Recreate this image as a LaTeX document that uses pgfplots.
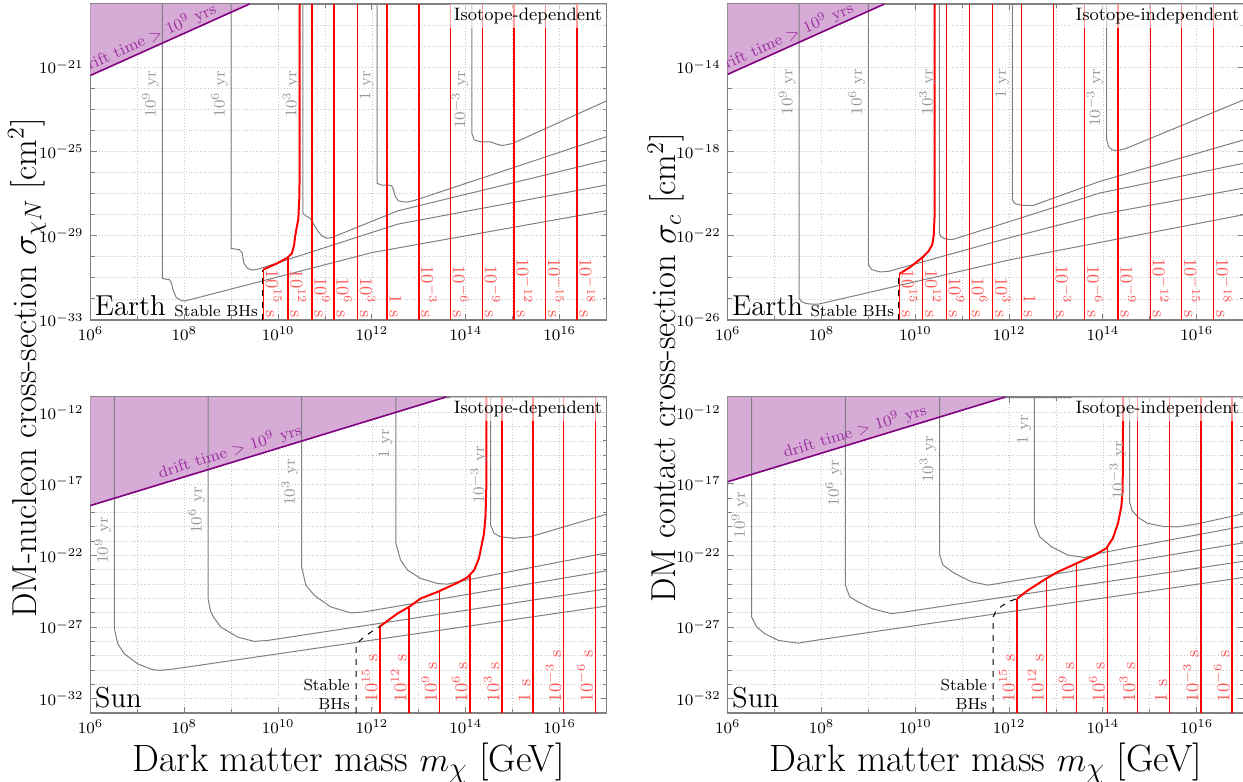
\documentclass[border=0pt]{standalone}
\usepackage{pgfplots}
\pgfplotsset{compat=1.18}
\definecolor{dmpurple}{RGB}{128,0,128}
\definecolor{dmfill}{RGB}{214,172,214}
\definecolor{dmtext}{RGB}{155,45,160}
\pgfplotsset{
  panel/.style={
    scale only axis, width=258pt, height=158pt, anchor=south west,
    xmin=6, xmax=17,
    xtick={6,8,10,12,14,16},
    xticklabels={$10^{6}$,$10^{8}$,$10^{10}$,$10^{12}$,$10^{14}$,$10^{16}$},
    minor xtick={7,9,11,13,15},
    grid=both,
    major grid style={densely dotted, gray!45, line width=0.4pt},
    minor grid style={densely dotted, gray!45, line width=0.4pt},
    axis line style={gray, line width=0.6pt},
    tick style={gray, line width=0.5pt},
    major tick length=3pt, minor tick length=2pt,
    tick align=inside,
    ticklabel style={font=\footnotesize},
    clip=true,
  },
  gc/.style={gray, line width=0.5pt},
  rl/.style={color=red, line width=0.65pt},
  rc/.style={color=red, line width=1pt},
  dl/.style={black, dashed, line width=0.5pt},
  pf/.style={draw=none, fill=dmfill},
  pl/.style={dmpurple, line width=0.8pt},
}
\newcommand{\rlabT}[3]{\node[rotate=-90, anchor=south east, text=red!65, font=\small, inner sep=1pt] at (#1,#2) {#3};}
\newcommand{\rlabB}[3]{\node[rotate=90, anchor=south west, text=red!65, font=\small, inner sep=1pt] at (#1,#2) {#3};}
\newcommand{\glab}[3]{\node[rotate=90, anchor=south east, text=gray!80, font=\footnotesize, inner sep=1.5pt] at (#1,#2) {#3};}
\begin{document}
\begin{tikzpicture}
\useasboundingbox (0pt,0pt) rectangle (621.5pt,391pt);
% ================= TOP LEFT =================
\begin{axis}[panel, at={(45.25pt,231pt)}, ymin=-33, ymax=-18,
  ytick={-33,-29,-25,-21}, yticklabels={$10^{-33}$,$10^{-29}$,$10^{-25}$,$10^{-21}$},
  minor ytick={-32,-31,-30,-28,-27,-26,-24,-23,-22,-20,-19}]
\addplot[pf] coordinates {(6,-21.39) (9.39,-18) (6,-18)};
\addplot[gc] coordinates {(7.53,-18) (7.53,-31.02) (7.6,-31.06) (7.68,-31.08) (7.73,-31.26) (7.76,-31.58) (7.83,-31.94) (7.93,-32.07) (8.01,-32.1) (12.0,-29.8) (17,-27.81)};
\addplot[gc] coordinates {(9.0,-18) (9.0,-29.6) (9.1,-29.64) (9.17,-29.66) (9.23,-29.8) (9.27,-30.31) (9.35,-30.55) (9.44,-30.63) (9.55,-30.6) (12.55,-28.45) (17,-26.59)};
\addplot[gc] coordinates {(10.53,-18) (10.53,-27.94) (10.59,-28.06) (10.68,-28.17) (10.74,-28.38) (10.83,-28.73) (10.93,-29.01) (11.05,-29.12) (11.15,-29.08) (12.55,-27.82) (17,-25.41)};
\addplot[gc] coordinates {(12.11,-18) (12.11,-26.51) (12.19,-26.59) (12.42,-26.62) (12.46,-26.83) (12.5,-27.15) (12.57,-27.35) (12.73,-27.41) (12.9,-27.33) (17,-24.3)};
\addplot[gc] coordinates {(14.13,-18) (14.13,-24.14) (14.18,-24.45) (14.32,-24.54) (14.53,-24.54) (14.64,-24.64) (14.78,-24.72) (15.0,-24.62) (17,-22.6)};
\addplot[rl] coordinates {(9.69,-33) (9.69,-30.6)};
\addplot[rl] coordinates {(10.21,-33) (10.21,-30.03)};
\addplot[rl] coordinates {(10.72,-33) (10.72,-18)};
\addplot[rl] coordinates {(11.19,-33) (11.19,-18)};
\addplot[rl] coordinates {(11.69,-33) (11.69,-18)};
\addplot[rl] coordinates {(12.32,-33) (12.32,-18)};
\addplot[rl] coordinates {(13.0,-33) (13.0,-18)};
\addplot[rl] coordinates {(13.67,-33) (13.67,-18)};
\addplot[rl] coordinates {(14.35,-33) (14.35,-18)};
\addplot[rl] coordinates {(15.03,-33) (15.03,-18)};
\addplot[rl] coordinates {(15.70,-33) (15.70,-18)};
\addplot[rl] coordinates {(16.37,-33) (16.37,-18)};
\addplot[rc] coordinates {(9.69,-30.6) (9.97,-30.32) (10.19,-30.06) (10.29,-29.85) (10.34,-29.46) (10.36,-29.07) (10.39,-28.68) (10.43,-28.21) (10.45,-27.27) (10.46,-26) (10.46,-18)};
\addplot[dl] coordinates {(9.66,-33) (9.66,-30.62)};
\addplot[pl] coordinates {(6,-21.39) (9.39,-18)};
\node[rotate=24.2, anchor=south, text=dmtext, font=\footnotesize, inner sep=0.8pt] at (7.3,-20.09) {drift time $>$ $10^{9}$ yrs};
\glab{7.53}{-21}{$10^{9}$ yr}
\glab{9.0}{-21}{$10^{6}$ yr}
\glab{10.53}{-21}{$10^{3}$ yr}
\glab{12.11}{-21}{1 yr}
\glab{14.13}{-21}{$10^{-3}$ yr}
\rlabT{9.69}{-33}{$10^{15}$ s}
\rlabT{10.21}{-33}{$10^{12}$ s}
\rlabT{10.72}{-33}{$10^{9}$ s}
\rlabT{11.19}{-33}{$10^{6}$ s}
\rlabT{11.69}{-33}{$10^{3}$ s}
\rlabT{12.32}{-33}{1 s}
\rlabT{13.0}{-33}{$10^{-3}$ s}
\rlabT{13.67}{-33}{$10^{-6}$ s}
\rlabT{14.35}{-33}{$10^{-9}$ s}
\rlabT{15.03}{-33}{$10^{-12}$ s}
\rlabT{15.70}{-33}{$10^{-15}$ s}
\rlabT{16.37}{-33}{$10^{-18}$ s}
\node[anchor=south east, font=\footnotesize, inner sep=1.5pt] at (9.64,-33) {Stable BHs};
\node[anchor=south west, font=\Large, inner sep=2pt] at (rel axis cs:0,0) {Earth};
\node[anchor=north east, font=\small, fill=white, fill opacity=0.6, text opacity=1, inner sep=2pt] at (rel axis cs:1,1) {Isotope-dependent};
\end{axis}
% ================= TOP RIGHT =================
\begin{axis}[panel, at={(363.85pt,231pt)}, ymin=-26, ymax=-11,
  ytick={-26,-22,-18,-14}, yticklabels={$10^{-26}$,$10^{-22}$,$10^{-18}$,$10^{-14}$},
  minor ytick={-25,-24,-23,-21,-20,-19,-17,-16,-15,-13,-12}]
\addplot[pf] coordinates {(6,-14.34) (9.34,-11) (6,-11)};
\addplot[gc] coordinates {(7.52,-11) (7.52,-24.95) (7.56,-25.11) (7.67,-25.22) (7.82,-25.25) (7.95,-25.24) (12.0,-23.15) (17,-21.0)};
\addplot[gc] coordinates {(9.0,-11) (9.0,-23.37) (9.07,-23.61) (9.25,-23.72) (9.43,-23.69) (12.0,-22.1) (13.92,-21.0) (17,-19.74)};
\addplot[gc] coordinates {(10.51,-11) (10.51,-21.87) (10.55,-22.05) (10.63,-22.15) (10.78,-22.19) (13.92,-19.98) (17,-18.56)};
\addplot[gc] coordinates {(12.07,-11) (12.07,-20.29) (12.12,-20.47) (12.25,-20.55) (12.5,-20.57) (13.92,-19.43) (17,-17.45)};
\addplot[gc] coordinates {(14.08,-11) (14.08,-17.45) (14.12,-17.77) (14.19,-17.92) (14.3,-17.97) (14.5,-17.85) (17,-15.55)};
\addplot[rl] coordinates {(9.66,-26) (9.66,-23.81)};
\addplot[rl] coordinates {(10.16,-26) (10.16,-23.01)};
\addplot[rl] coordinates {(10.66,-26) (10.66,-11)};
\addplot[rl] coordinates {(11.15,-26) (11.15,-11)};
\addplot[rl] coordinates {(11.65,-26) (11.65,-11)};
\addplot[rl] coordinates {(12.26,-26) (12.26,-11)};
\addplot[rl] coordinates {(12.94,-26) (12.94,-11)};
\addplot[rl] coordinates {(13.61,-26) (13.61,-11)};
\addplot[rl] coordinates {(14.32,-26) (14.32,-11)};
\addplot[rl] coordinates {(15.01,-26) (15.01,-11)};
\addplot[rl] coordinates {(15.68,-26) (15.68,-11)};
\addplot[rl] coordinates {(16.36,-26) (16.36,-11)};
\addplot[rc] coordinates {(9.66,-23.81) (9.89,-23.49) (10.16,-23.01) (10.28,-22.74) (10.36,-22.43) (10.39,-22.03) (10.41,-21.09) (10.41,-11)};
\addplot[dl] coordinates {(9.64,-26) (9.64,-23.81)};
\addplot[pl] coordinates {(6,-14.34) (9.34,-11)};
\node[rotate=24.2, anchor=south, text=dmtext, font=\footnotesize, inner sep=0.8pt] at (7.3,-13.04) {drift time $>$ $10^{9}$ yrs};
\glab{7.52}{-13.9}{$10^{9}$ yr}
\glab{9.0}{-13.9}{$10^{6}$ yr}
\glab{10.51}{-13.9}{$10^{3}$ yr}
\glab{12.07}{-13.9}{1 yr}
\glab{14.08}{-13.9}{$10^{-3}$ yr}
\rlabT{9.66}{-26}{$10^{15}$ s}
\rlabT{10.16}{-26}{$10^{12}$ s}
\rlabT{10.66}{-26}{$10^{9}$ s}
\rlabT{11.15}{-26}{$10^{6}$ s}
\rlabT{11.65}{-26}{$10^{3}$ s}
\rlabT{12.26}{-26}{1 s}
\rlabT{12.94}{-26}{$10^{-3}$ s}
\rlabT{13.61}{-26}{$10^{-6}$ s}
\rlabT{14.32}{-26}{$10^{-9}$ s}
\rlabT{15.01}{-26}{$10^{-12}$ s}
\rlabT{15.68}{-26}{$10^{-15}$ s}
\rlabT{16.36}{-26}{$10^{-18}$ s}
\node[anchor=south east, font=\footnotesize, inner sep=1.5pt] at (9.62,-26) {Stable BHs};
\node[anchor=south west, font=\Large, inner sep=2pt] at (rel axis cs:0,0) {Earth};
\node[anchor=north east, font=\small, fill=white, fill opacity=0.6, text opacity=1, inner sep=2pt] at (rel axis cs:1,1) {Isotope-independent};
\end{axis}
% ================= BOTTOM LEFT =================
\begin{axis}[panel, at={(45.25pt,34.5pt)}, ymin=-33, ymax=-10.93,
  ytick={-32,-27,-22,-17,-12}, yticklabels={$10^{-32}$,$10^{-27}$,$10^{-22}$,$10^{-17}$,$10^{-12}$},
  minor ytick={-33,-31,-30,-29,-28,-26,-25,-24,-23,-21,-20,-19,-18,-16,-15,-14,-13,-11}]
\addplot[pf] coordinates {(6,-18.51) (13.58,-10.93) (6,-10.93)};
\addplot[gc] coordinates {(6.51,-10.93) (6.51,-27.11) (6.58,-28.16) (6.72,-28.86) (7.01,-29.57) (7.3,-29.95) (7.47,-30.03) (7.79,-29.92) (17,-25.53)};
\addplot[gc] coordinates {(8.51,-10.93) (8.51,-25.1) (8.56,-25.9) (8.63,-26.34) (8.78,-27.0) (9.14,-27.7) (9.49,-28.0) (9.78,-27.93) (17,-24.33)};
\addplot[gc] coordinates {(10.5,-10.93) (10.5,-22.79) (10.59,-24.07) (10.77,-24.78) (11.12,-25.59) (11.55,-26.01) (11.83,-25.94) (17,-23.07)};
\addplot[gc] coordinates {(12.51,-10.93) (12.51,-21.15) (12.61,-22.32) (12.76,-23.02) (13.04,-23.61) (13.4,-23.96) (13.61,-24.0) (13.82,-23.84) (17,-21.82)};
\addplot[gc] coordinates {(14.53,-10.93) (14.53,-19.87) (14.6,-20.45) (14.74,-20.69) (15.03,-20.8) (15.38,-20.69) (17,-19.12)};
\addplot[rl] coordinates {(12.17,-33) (12.17,-26.95)};
\addplot[rl] coordinates {(12.79,-33) (12.79,-25.59)};
\addplot[rl] coordinates {(13.44,-33) (13.44,-24.48)};
\addplot[rl] coordinates {(14.09,-33) (14.09,-23.33)};
\addplot[rl] coordinates {(14.77,-33) (14.77,-10.93)};
\addplot[rl] coordinates {(15.43,-33) (15.43,-10.93)};
\addplot[rl] coordinates {(16.09,-33) (16.09,-10.93)};
\addplot[rl] coordinates {(16.76,-33) (16.76,-10.93)};
\addplot[rc] coordinates {(12.17,-26.95) (12.33,-26.57) (12.54,-26.06) (12.79,-25.59) (13.04,-25.0) (13.4,-24.54) (13.82,-23.91) (14.03,-23.54) (14.18,-23.02) (14.28,-22.21) (14.39,-20.45) (14.42,-19.29) (14.44,-17) (14.44,-10.93)};
\addplot[dl] coordinates {(11.66,-33) (11.66,-28.28) (11.71,-28.05) (11.83,-27.7) (11.98,-27.35) (12.17,-26.95)};
\addplot[pl] coordinates {(6,-18.51) (13.58,-10.93)};
\node[rotate=17, anchor=south, text=dmtext, font=\footnotesize, inner sep=1.2pt] at (9.04,-15.47) {drift time $>$ $10^{9}$ yrs};
\glab{6.51}{-19.09}{$10^{9}$ yr}
\glab{8.51}{-17.0}{$10^{6}$ yr}
\glab{10.5}{-15.02}{$10^{3}$ yr}
\glab{12.51}{-12.93}{1 yr}
\glab{14.53}{-14.1}{$10^{-3}$ yr}
\rlabB{12.17}{-32.4}{$10^{15}$ s}
\rlabB{12.79}{-32.4}{$10^{12}$ s}
\rlabB{13.44}{-32.4}{$10^{9}$ s}
\rlabB{14.09}{-32.4}{$10^{6}$ s}
\rlabB{14.77}{-32.4}{$10^{3}$ s}
\rlabB{15.43}{-32.4}{1 s}
\rlabB{16.09}{-32.4}{$10^{-3}$ s}
\rlabB{16.76}{-32.4}{$10^{-6}$ s}
\node[anchor=south east, align=right, font=\footnotesize, inner sep=1.5pt] at (11.6,-33) {Stable\\BHs};
\node[anchor=south west, font=\Large, inner sep=2pt] at (rel axis cs:0,0) {Sun};
\node[anchor=north east, font=\small, fill=white, fill opacity=0.6, text opacity=1, inner sep=2pt] at (rel axis cs:1,1) {Isotope-dependent};
\end{axis}
% ================= BOTTOM RIGHT =================
\begin{axis}[panel, at={(363.85pt,34.5pt)}, ymin=-33, ymax=-10.93,
  ytick={-32,-27,-22,-17,-12}, yticklabels={$10^{-32}$,$10^{-27}$,$10^{-22}$,$10^{-17}$,$10^{-12}$},
  minor ytick={-33,-31,-30,-29,-28,-26,-25,-24,-23,-21,-20,-19,-18,-16,-15,-14,-13,-11}]
\addplot[pf] coordinates {(6,-16.85) (11.92,-10.93) (6,-10.93)};
\addplot[gc] coordinates {(6.51,-10.93) (6.51,-26.29) (6.62,-27.0) (6.79,-27.46) (7.08,-27.93) (7.5,-28.12) (7.86,-27.93) (17,-23.53)};
\addplot[gc] coordinates {(8.51,-10.93) (8.51,-24.07) (8.6,-24.89) (8.78,-25.24) (9.07,-25.71) (9.49,-26.06) (9.78,-25.94) (17,-22.4)};
\addplot[gc] coordinates {(10.52,-10.93) (10.52,-21.97) (10.59,-22.67) (10.84,-23.26) (11.2,-23.84) (11.55,-24.07) (11.98,-23.84) (17,-21.11)};
\addplot[gc] coordinates {(12.54,-10.93) (12.54,-19.75) (12.65,-20.69) (12.9,-21.39) (13.25,-21.97) (13.61,-22.14) (13.89,-21.86) (17,-19.95)};
\addplot[gc] coordinates {(14.57,-10.93) (14.57,-18.3) (14.62,-18.85) (14.75,-19.35) (14.95,-19.75) (15.3,-19.98) (15.6,-20.0) (16.0,-19.8) (17,-19.08)};
\addplot[rl] coordinates {(12.17,-33) (12.17,-25.01)};
\addplot[rl] coordinates {(12.79,-33) (12.79,-23.61)};
\addplot[rl] coordinates {(13.44,-33) (13.44,-22.56)};
\addplot[rl] coordinates {(14.09,-33) (14.09,-21.45)};
\addplot[rl] coordinates {(14.74,-33) (14.74,-10.93)};
\addplot[rl] coordinates {(15.42,-33) (15.42,-10.93)};
\addplot[rl] coordinates {(16.09,-33) (16.09,-10.93)};
\addplot[rl] coordinates {(16.75,-33) (16.75,-10.93)};
\addplot[rc] coordinates {(12.17,-25.01) (12.4,-24.43) (12.79,-23.61) (13.04,-23.14) (13.43,-22.56) (13.82,-21.97) (14.07,-21.5) (14.21,-20.8) (14.32,-19.75) (14.39,-18.6) (14.42,-17.5) (14.43,-10.93)};
\addplot[dl] coordinates {(11.66,-33) (11.66,-26.29) (11.71,-25.94) (11.83,-25.55) (12.01,-25.2) (12.17,-25.01)};
\addplot[pl] coordinates {(6,-16.85) (11.92,-10.93)};
\node[rotate=17, anchor=south, text=dmtext, font=\footnotesize, inner sep=1.2pt] at (8.78,-14.07) {drift time $>$ $10^{9}$ yrs};
\glab{6.51}{-17.3}{$10^{9}$ yr}
\glab{8.51}{-15.06}{$10^{6}$ yr}
\glab{10.52}{-13.44}{$10^{3}$ yr}
\glab{12.54}{-11.93}{1 yr}
\glab{14.57}{-13.79}{$10^{-3}$ yr}
\rlabB{12.17}{-32.4}{$10^{15}$ s}
\rlabB{12.79}{-32.4}{$10^{12}$ s}
\rlabB{13.44}{-32.4}{$10^{9}$ s}
\rlabB{14.09}{-32.4}{$10^{6}$ s}
\rlabB{14.74}{-32.4}{$10^{3}$ s}
\rlabB{15.42}{-32.4}{1 s}
\rlabB{16.09}{-32.4}{$10^{-3}$ s}
\rlabB{16.75}{-32.4}{$10^{-6}$ s}
\node[anchor=south east, align=right, font=\footnotesize, inner sep=1.5pt] at (11.6,-33) {Stable\\BHs};
\node[anchor=south west, font=\Large, inner sep=2pt] at (rel axis cs:0,0) {Sun};
\node[anchor=north east, font=\small, fill=white, fill opacity=0.6, text opacity=1, inner sep=2pt] at (rel axis cs:1,1) {Isotope-independent};
\end{axis}
% ================= axis labels =================
\node[rotate=90, font=\LARGE] at (13.5pt,207pt) {DM-nucleon cross-section $\sigma_{\chi N}$ [cm$^2$]};
\node[rotate=90, font=\LARGE] at (333pt,207pt) {DM contact cross-section $\sigma_{c}$ [cm$^2$]};
\node[anchor=base, font=\fontsize{19}{23}\selectfont] at (174.25pt,5pt) {Dark matter mass $m_\chi$ [GeV]};
\node[anchor=base, font=\fontsize{19}{23}\selectfont] at (492.85pt,5pt) {Dark matter mass $m_\chi$ [GeV]};
\end{tikzpicture}
\end{document}
